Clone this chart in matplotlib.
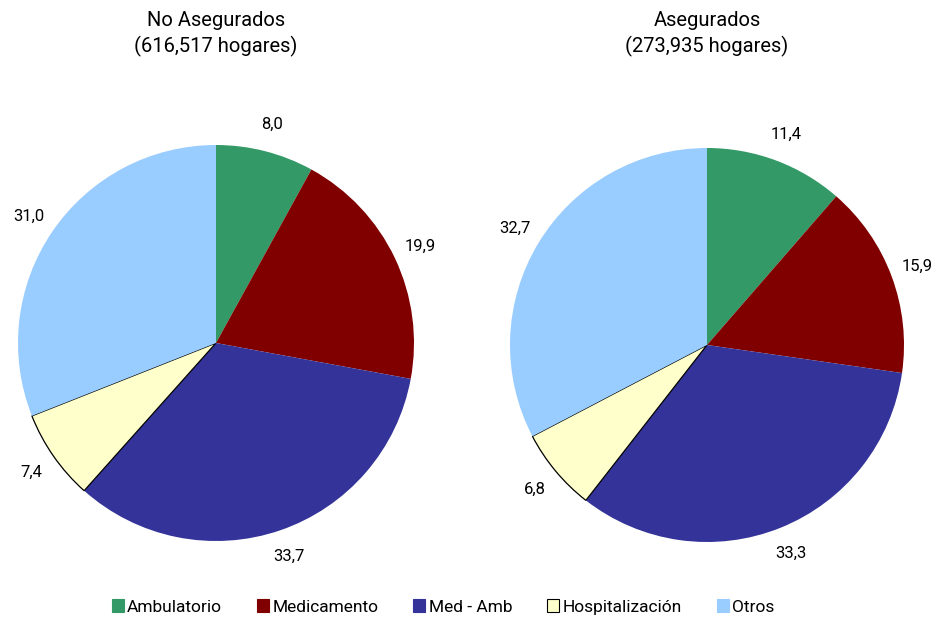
import numpy as np
import matplotlib
matplotlib.use("Agg")
import matplotlib.pyplot as plt

plt.rcParams['font.family'] = ['Roboto', 'DejaVu Sans']

# datos
categorias = ['Ambulatorio', 'Medicamento', 'Med - Amb', 'Hospitalización', 'Otros']
no_asegurados = [8.0, 19.9, 33.7, 7.4, 31.0]
asegurados = [11.4, 15.9, 33.3, 6.8, 32.7]
titulos = ['No Asegurados\n(616,517 hogares)', 'Asegurados\n(273,935 hogares)']
colores = ['#339966', '#800000', '#333399', '#FFFFCC', '#99CCFF']

W, H = 935, 620
fig = plt.figure(figsize=(W / 100, H / 100), dpi=100)

def etiqueta(v):
    return ('%.1f' % v).replace('.', ',')

# centros y radios en pixeles
pies = [(216, 343, 198), (707, 345, 197)]
datos = [no_asegurados, asegurados]

for (cx, cy, r), vals, tit in zip(pies, datos, titulos):
    ax = fig.add_axes([(cx - r) / W, (H - cy - r) / H, 2 * r / W, 2 * r / H])
    wedges, texts = ax.pie(vals, colors=colores, startangle=90, counterclock=False,
                           labels=[etiqueta(v) for v in vals], labeldistance=1.14,
                           radius=1.0, wedgeprops=dict(linewidth=0))
    for t in texts:
        t.set_fontsize(12)
        t.set_ha('center')
        t.set_va('center')
    # solo la hospitalizacion tiene borde negro
    wedges[3].set_edgecolor('black')
    wedges[3].set_linewidth(0.9)
    ax.set_xlim(-1, 1)
    ax.set_ylim(-1, 1)
    ax.set_aspect('equal')
    fig.text(cx / W, 1 - 34 / H, tit, ha='center', va='center', fontsize=14.5,
             linespacing=1.35)

handles = [plt.Rectangle((0, 0), 1, 1, facecolor=c,
                         edgecolor='black' if c == '#FFFFCC' else c, linewidth=0.8)
           for c in colores]
fig.legend(handles, categorias, loc='center', bbox_to_anchor=(0.474, 1 - 607 / H),
           ncol=5, frameon=False, fontsize=12.5, handlelength=0.7, handleheight=0.7,
           handletextpad=0.2, columnspacing=2.0)

fig.savefig('out.png', dpi=100)
